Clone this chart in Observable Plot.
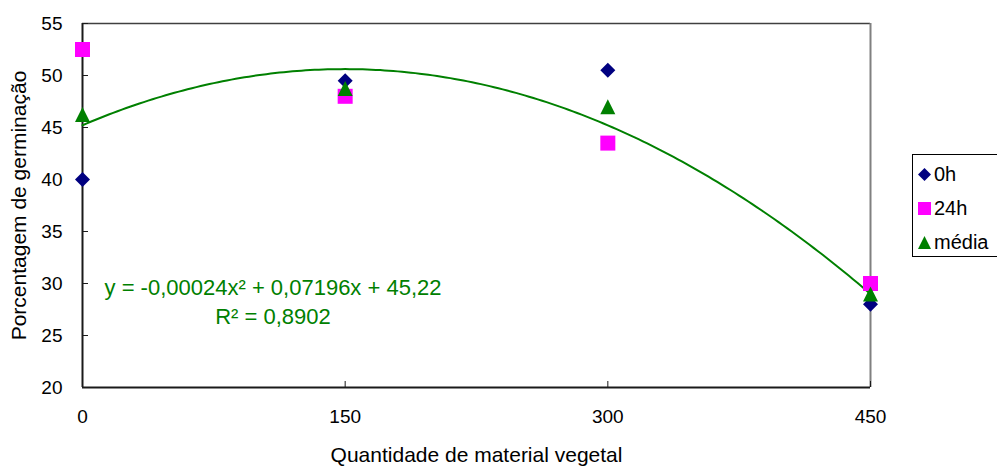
<!DOCTYPE html>
<html><head><meta charset="utf-8">
<script src="https://cdn.jsdelivr.net/npm/d3@7"></script>
<script src="https://cdn.jsdelivr.net/npm/@observablehq/plot@0.6"></script>
<style>
html,body{margin:0;padding:0;background:#fff;overflow:hidden;}
#wrap{position:relative;width:997px;height:467px;overflow:hidden;font-family:Arial,"Liberation Sans",sans-serif;background:#fff;}
#legend{position:absolute;left:912px;top:154px;width:120px;height:103px;border:1px solid #000;background:#fff;box-sizing:border-box;}
.item{position:absolute;left:5px;height:24px;display:flex;align-items:center;font-size:20px;color:#000;white-space:nowrap;}
.item svg{margin-right:3px;}
</style></head><body><div id="wrap"></div>
<script>
// ---- data ----
const doses = [0, 150, 300, 450];
const germ0h = [40, 49.5, 50.5, 28];
const germ24h = [52.5, 48, 43.5, 30];
const germMedia = [46.25, 48.75, 47, 29];
const seriesNames = ["0h", "24h", "média"];
const seriesColors = ["#000080", "#FF00FF", "#008000"];
const xTicks = [0, 150, 300, 450];
const yTicks = [20, 25, 30, 35, 40, 45, 50, 55];
const xDomain = [0, 450];
const yDomain = [20, 55];
// polynomial trendline as printed on the chart: y = c0 + c1 x + c2 x^2
const trendCoef = [45.22, 0.07196, -0.00024];
const equationLines = ["y = -0,00024x² + 0,07196x + 45,22", "R² = 0,8902"];
const xTitle = "Quantidade de material vegetal";
const yTitle = "Porcentagem de germinação";

// ---- symbols (Excel-like, centred on bounding box) ----
const symDiamond = {draw(c, s){const h=Math.sqrt(s/Math.PI);c.moveTo(0,-h);c.lineTo(h,0);c.lineTo(0,h);c.lineTo(-h,0);c.closePath();}};
const symSquare = {draw(c, s){const h=Math.sqrt(s/Math.PI);c.moveTo(-h,-h);c.lineTo(h,-h);c.lineTo(h,h);c.lineTo(-h,h);c.closePath();}};
const symTriangle = {draw(c, s){const h=Math.sqrt(s/Math.PI);c.moveTo(0,-h);c.lineTo(h,h);c.lineTo(-h,h);c.closePath();}};
const symbols = [symDiamond, symSquare, symTriangle];

const seriesValues = [germ0h, germ24h, germMedia];
const points = seriesValues.map((vals, s) => doses.map((x, i) => ({x, y: vals[i], s})));

const trendX = d3.range(xDomain[0], xDomain[1] + 0.001, 2.5);
const trend = trendX.map(x => ({x, y: trendCoef[0] + trendCoef[1]*x + trendCoef[2]*x*x}));

const W = 997, H = 467, mL = 82, mR = 127, mT = 23, mB = 80;
const plotW = W - mL - mR, plotH = H - mT - mB;
const font = "Arial, 'Liberation Sans', sans-serif";

const chart = Plot.plot({
  width: W, height: H,
  marginLeft: mL, marginRight: mR, marginTop: mT, marginBottom: mB,
  style: {fontFamily: font, color: "#000", background: "#fff", overflow: "visible"},
  x: {domain: xDomain},
  y: {domain: yDomain},
  marks: [
    // frame / axes lines
    Plot.ruleY([yDomain[1]], {stroke: "#404040", strokeWidth: 1.5}),
    Plot.ruleX([xDomain[1]], {stroke: "#808080", strokeWidth: 2}),
    Plot.ruleX([xDomain[0]], {stroke: "#1a1a1a", strokeWidth: 2}),
    Plot.ruleY([yDomain[0]], {stroke: "#1a1a1a", strokeWidth: 2}),
    // inward ticks
    Plot.ruleY(yTicks, {stroke: "#1a1a1a", strokeWidth: 1, insetRight: plotW - 6}),
    Plot.ruleX(xTicks, {stroke: "#1a1a1a", strokeWidth: 1, insetTop: plotH - 6}),
    Plot.axisX({ticks: xTicks, tickSize: 0, tickPadding: 22, fontSize: 19, label: null, tickFormat: d => String(d)}),
    Plot.axisY({ticks: yTicks, tickSize: 0, tickPadding: 20, fontSize: 19, label: null, tickFormat: d => String(d)}),
    // trendline
    Plot.line(trend, {x: "x", y: "y", stroke: "#008000", strokeWidth: 2}),
    // series markers
    ...points.map((pts, s) => Plot.dot(pts, {x: "x", y: "y", r: 7.5, symbol: symbols[s], fill: seriesColors[s], stroke: "none"})),
    // equation
    Plot.text([equationLines.join("\n")], {frameAnchor: "top-left", dx: 190.5, dy: 251, textAnchor: "middle", lineAnchor: "top", lineHeight: 1.32, fontSize: 22, fill: "#008000"}),
    // axis titles
    Plot.text([xTitle], {frameAnchor: "bottom", dy: 60, textAnchor: "middle", lineAnchor: "top", fontSize: 21, fill: "#000"}),
    Plot.text([yTitle], {frameAnchor: "left", dx: -71, rotate: -90, textAnchor: "middle", lineAnchor: "top", fontSize: 21, fill: "#000"})
  ]
});
const wrap = document.getElementById("wrap");
wrap.appendChild(chart);

// legend
const legend = document.createElement("div");
legend.id = "legend";
const rowCenters = [19, 53, 87];
const legendSymbols = [
  h => `<polygon points="${h},0 ${2*h},${h} ${h},${2*h} 0,${h}"/>`,
  h => `<rect x="0" y="0" width="${2*h}" height="${2*h}"/>`,
  h => `<polygon points="${h},0 ${2*h},${2*h} 0,${2*h}"/>`
];
seriesNames.forEach((name, i) => {
  const item = document.createElement("div");
  item.className = "item";
  item.style.top = (rowCenters[i] - 12) + "px";
  const h = 6.5;
  item.innerHTML = `<svg width="${2*h}" height="${2*h}" style="fill:${seriesColors[i]}">${legendSymbols[i](h)}</svg><span>${name}</span>`;
  legend.appendChild(item);
});
wrap.appendChild(legend);
</script>
</body></html>
